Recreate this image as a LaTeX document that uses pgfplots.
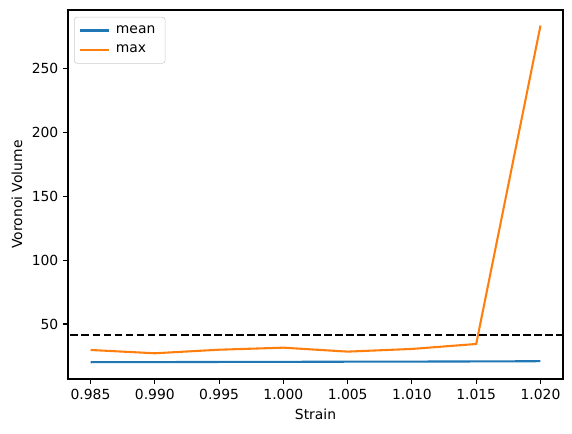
\documentclass[border=0pt]{standalone}
\usepackage{pgfplots}
\pgfplotsset{compat=1.18}
\usepackage{fontspec}
\setmainfont{DejaVu Sans}
\definecolor{tabblue}{HTML}{1F77B4}
\definecolor{taborange}{HTML}{FF7F0E}
\begin{document}
\begin{tikzpicture}
\begin{axis}[
  scale only axis,
  width=356.4pt, height=265.7pt,
  xmin=0.98325, xmax=1.02175,
  ymin=6.85, ymax=296.2,
  xtick={0.985,0.990,0.995,1.000,1.005,1.010,1.015,1.020},
  ytick={50,100,150,200,250},
  scaled x ticks=false,
  xticklabel style={/pgf/number format/.cd, fixed, fixed zerofill, precision=3, assume math mode=true},
  yticklabel style={/pgf/number format/.cd, fixed, precision=0, assume math mode=true},
  tick label style={font=\fontsize{10}{12}\selectfont},
  label style={font=\fontsize{10}{12}\selectfont},
  xlabel={Strain}, ylabel={Voronoi Volume},
  tick align=outside, tick pos=left,
  major tick length=3.5pt,
  every tick/.style={black, line width=0.8pt},
  axis line style={line width=0.8pt},
  clip=true,
  legend cell align=left,
  legend style={at={(0,1)}, xshift=4.3pt, yshift=-5pt, anchor=north west,
    draw=black!20, rounded corners=2pt, font=\fontsize{10}{12}\selectfont,
    inner xsep=3pt, inner ysep=4pt, row sep=3pt,
    nodes={inner xsep=4pt, inner ysep=2pt}},
  legend image code/.code={\draw[#1] (-1pt,0pt) -- (20.5pt,0pt);},
]
\addplot[tabblue, line width=1.5pt] coordinates {
(0.985,20.0) (0.990,20.1) (0.995,20.2) (1.000,20.3) (1.005,20.4) (1.010,20.5) (1.015,20.6) (1.020,20.8)};
\addlegendentry{mean}
\addplot[taborange, line width=1.5pt] coordinates {
(0.985,29.6) (0.990,27.0) (0.995,29.8) (1.000,31.4) (1.005,28.3) (1.010,30.4) (1.015,34.3) (1.020,284)};
\addlegendentry{max}
\addplot[black, line width=1.5pt, dash pattern=on 5.55pt off 2.4pt, forget plot] coordinates {(0.98,41.2) (1.025,41.2)};
\end{axis}
\path (current axis.south west) ++(-49pt,-38.9pt);
\path (current axis.north east) ++(6.5pt,7.2pt);
\end{tikzpicture}
\end{document}
